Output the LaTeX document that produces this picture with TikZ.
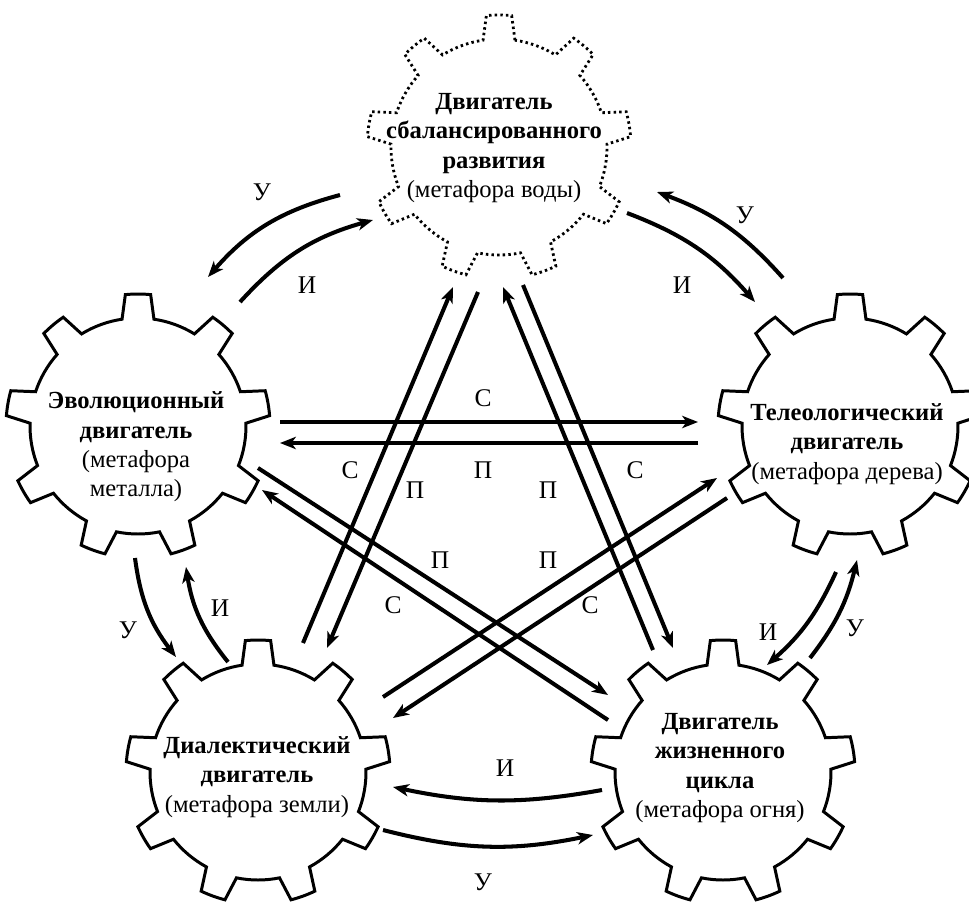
\documentclass[tikz,border=0pt]{standalone}
\usepackage{fontspec}
\setmainfont{Liberation Serif}
\usetikzlibrary{arrows.meta}
\newcommand\drawgear[2]{%
  \begin{scope}[shift={#1}, yscale=-1]
    \draw[#2] (81.5:108) \foreach \k in {0,...,8}{
      -- ({84.5+40*\k}:132) arc[start angle={84.5+40*\k}, delta angle=11, radius=132]
      -- ({98.5+40*\k}:108) arc[start angle={98.5+40*\k}, delta angle=23, radius=108]} -- cycle;
  \end{scope}}
\begin{document}
\begin{tikzpicture}[x=0.02cm,y=-0.02cm,
  gearline/.style={line width=1.7pt, line join=miter},
  gearwater/.style={line width=1.6pt, dash pattern=on 1.4pt off 1.8pt},
  conn/.style={line width=2.3pt, -{Stealth[length=9pt,width=7pt,inset=2.5pt]}},
  lbl/.style={font=\fontsize{14.5}{16}\selectfont, inner sep=0pt},
  gtext/.style={align=center, font=\fontsize{14}{16.7}\selectfont, inner sep=0pt}]
\useasboundingbox (0,0) rectangle (969,909);
\fill[white] (0,0) rectangle (969,909);

% gear centres
\coordinate (gW) at (499,147);
\coordinate (gE) at (138,426);
\coordinate (gT) at (850,426);
\coordinate (gD) at (258,772);
\coordinate (gL) at (723,772);

\drawgear{(gW)}{gearwater}
\drawgear{(gE)}{gearline}
\drawgear{(gT)}{gearline}
\drawgear{(gD)}{gearline}
\drawgear{(gL)}{gearline}

% gear texts
\node[gtext] (W) at (494,148) {\textbf{Двигатель}\\\textbf{сбалансированного}\\\textbf{развития}\\(метафора воды)};
\node[gtext] (E) at (136,447) {\textbf{Эволюционный}\\\textbf{двигатель}\\(метафора\\металла)};
\node[gtext] (T) at (847,444) {\textbf{Телеологический}\\\textbf{двигатель}\\(метафора дерева)};
\node[gtext] (D) at (257,777) {\textbf{Диалектический}\\\textbf{двигатель}\\(метафора земли)};
\node[gtext] (L) at (720,768) {\textbf{Двигатель}\\\textbf{жизненного}\\\textbf{цикла}\\(метафора огня)};

% connector end points
\coordinate (weU1) at (340,195); \coordinate (weU2) at (208,277);
\coordinate (ewI1) at (240,302); \coordinate (ewI2) at (373,220);
\coordinate (wtI1) at (627,213); \coordinate (wtI2) at (755,302);
\coordinate (twU1) at (783,278); \coordinate (twU2) at (657,192);
\coordinate (edU1) at (135,558); \coordinate (edU2) at (176,657);
\coordinate (deI1) at (228,662); \coordinate (deI2) at (186,567);
\coordinate (tlI1) at (836,572); \coordinate (tlI2) at (767,665);
\coordinate (ltU1) at (810,658); \coordinate (ltU2) at (857,560);
\coordinate (ldI1) at (602,790); \coordinate (ldI2) at (393,787);
\coordinate (dlU1) at (383,830); \coordinate (dlU2) at (593,835);

\coordinate (etS1) at (280,422); \coordinate (etS2) at (698,422);
\coordinate (teP1) at (698,443); \coordinate (teP2) at (280,443);
\coordinate (dwS1) at (303,643); \coordinate (dwS2) at (453,287);
\coordinate (wdP1) at (478,292); \coordinate (wdP2) at (327,648);
\coordinate (lwP1) at (653,650); \coordinate (lwP2) at (503,287);
\coordinate (wlS1) at (523,285); \coordinate (wlS2) at (673,648);
\coordinate (elP1) at (258,468); \coordinate (elP2) at (608,695);
\coordinate (leS1) at (608,720); \coordinate (leS2) at (262,490);
\coordinate (dtP1) at (383,697); \coordinate (dtP2) at (717,478);
\coordinate (tdS1) at (727,498); \coordinate (tdS2) at (393,718);

% curved connectors
\draw[conn] (weU1) to[bend right=17] (weU2);
\draw[conn] (ewI1) to[bend left=16] (ewI2);
\draw[conn] (wtI1) to[bend left=14] (wtI2);
\draw[conn] (twU1) to[bend right=14] (twU2);
\draw[conn] (edU1) to[bend right=15] (edU2);
\draw[conn] (deI1) to[bend left=15] (deI2);
\draw[conn] (tlI1) to[bend left=12] (tlI2);
\draw[conn] (ltU1) to[bend right=12] (ltU2);
\draw[conn] (ldI1) to[bend left=11] (ldI2);
\draw[conn] (dlU1) to[bend right=13] (dlU2);

% straight connectors
\draw[conn] (etS1) -- (etS2);
\draw[conn] (teP1) -- (teP2);
\draw[conn] (dwS1) -- (dwS2);
\draw[conn] (wdP1) -- (wdP2);
\draw[conn] (lwP1) -- (lwP2);
\draw[conn] (wlS1) -- (wlS2);
\draw[conn] (elP1) -- (elP2);
\draw[conn] (leS1) -- (leS2);
\draw[conn] (dtP1) -- (dtP2);
\draw[conn] (tdS1) -- (tdS2);

% labels
\node[lbl] (l1) at (262,192) {У};
\node[lbl] (l2) at (307,285) {И};
\node[lbl] (l3) at (682,285) {И};
\node[lbl] (l4) at (745,215) {У};
\node[lbl] (l5) at (128,630) {У};
\node[lbl] (l6) at (220,608) {И};
\node[lbl] (l7) at (768,632) {И};
\node[lbl] (l8) at (855,628) {У};
\node[lbl] (l9) at (505,768) {И};
\node[lbl] (l10) at (483,882) {У};

\node[lbl] (m1) at (483,398) {С};
\node[lbl] (m2) at (483,470) {П};
\node[lbl] (m3) at (350,470) {С};
\node[lbl] (m4) at (415,490) {П};
\node[lbl] (m5) at (548,490) {П};
\node[lbl] (m6) at (635,470) {С};
\node[lbl] (m7) at (440,560) {П};
\node[lbl] (m8) at (393,605) {С};
\node[lbl] (m9) at (548,560) {П};
\node[lbl] (m10) at (590,605) {С};
\end{tikzpicture}
\end{document}
